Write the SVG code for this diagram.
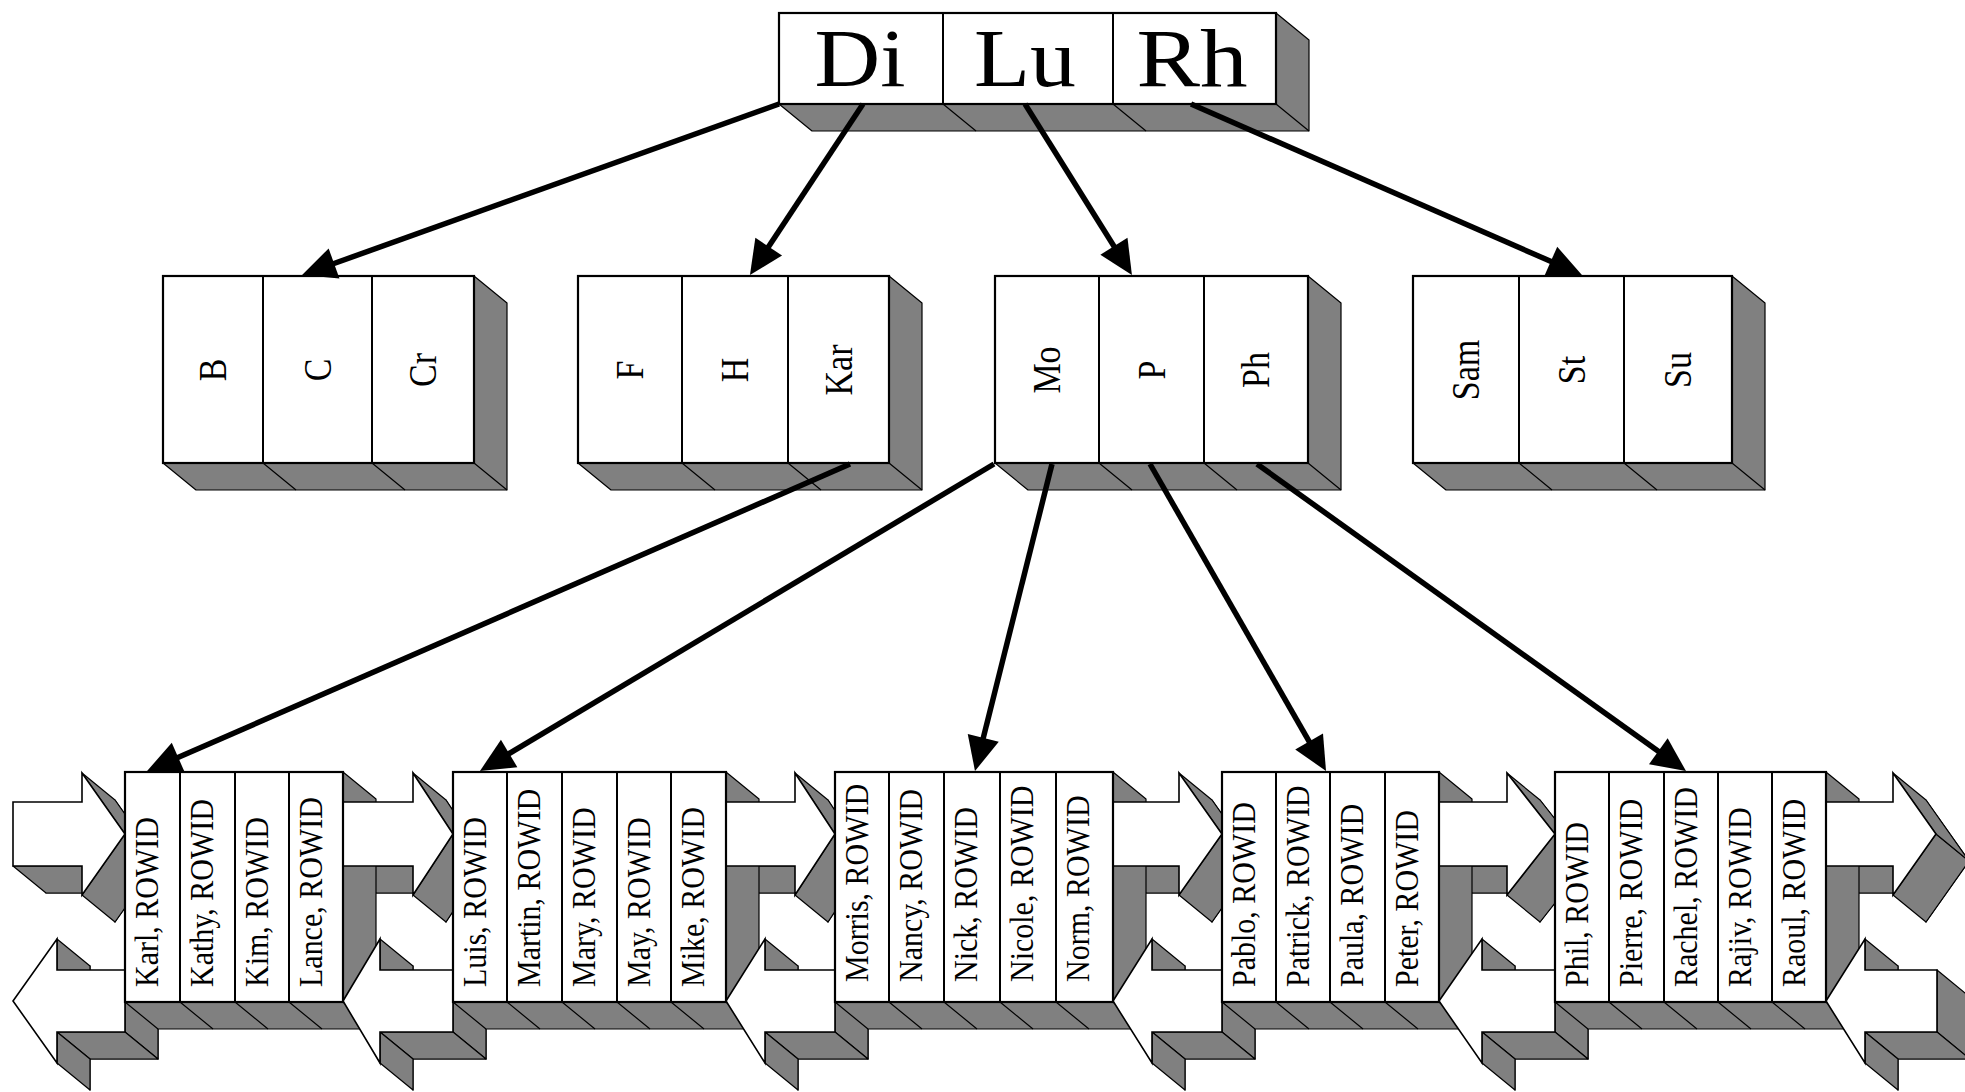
<svg xmlns="http://www.w3.org/2000/svg" width="1965" height="1092" viewBox="0 0 1965 1092">
  <defs>
    <style>
      .ext { fill: #808080; stroke: #000; stroke-width: 1.2; stroke-linejoin: round; }
      .crease { fill: none; stroke: #000; stroke-width: 1.2; }
      .face { fill: #fff; stroke: #000; stroke-width: 2.2; stroke-linejoin: miter; }
      .div { fill: none; stroke: #000; stroke-width: 2; }
      .link { fill: #fff; stroke: #000; stroke-width: 1.6; stroke-linejoin: miter; }
      .conn { fill: none; stroke: #000; stroke-width: 5.5; marker-end: url(#head); }
      .t0 { font-family: "Liberation Serif", "Times New Roman", serif; font-size: 82px; fill: #000; text-anchor: middle; }
      .t1 { font-family: "Liberation Serif", "Times New Roman", serif; font-size: 34px; fill: #000; text-anchor: middle; }
      .t2 { font-family: "Liberation Serif", "Times New Roman", serif; font-size: 30px; fill: #000; }
    </style>
    <marker id="head" markerUnits="userSpaceOnUse" markerWidth="40" markerHeight="36" refX="6" refY="16" orient="auto" overflow="visible">
      <path d="M0,0 L34,16 L0,32 Z" fill="#000"/>
    </marker>
  </defs>
  <rect width="1965" height="1092" fill="#fff"/>

  <!-- extruded (3-D) sides, drawn behind every front face -->
  <g id="depth">
    <!-- root block -->
    <polygon class="ext" points="1276,13 1309,40 1309,131 812,131 779,104 1276,104"/>
    <path class="crease" d="M1276,104 l33,27 M943,104 l33,27 M1113,104 l33,27"/>
    <!-- branch blocks -->
    <polygon class="ext" points="474,276 507,303 507,490 196,490 163,463 474,463"/>
    <path class="crease" d="M474,463 l33,27 M263,463 l33,27 M372,463 l33,27"/>
    <polygon class="ext" points="889,276 922,303 922,490 611,490 578,463 889,463"/>
    <path class="crease" d="M889,463 l33,27 M682,463 l33,27 M788,463 l33,27"/>
    <polygon class="ext" points="1308,276 1341,303 1341,490 1028,490 995,463 1308,463"/>
    <path class="crease" d="M1308,463 l33,27 M1099,463 l33,27 M1204,463 l33,27"/>
    <polygon class="ext" points="1732,276 1765,303 1765,490 1446,490 1413,463 1732,463"/>
    <path class="crease" d="M1732,463 l33,27 M1519,463 l33,27 M1624,463 l33,27"/>

    <!-- forward pointers (right arrows) -->
    <polygon class="ext" points="46,829 115,829 115,800 158,861 115,922 115,893 46,893"/>
    <polygon class="ext" points="82,866 13,866 46,893 115,893"/>
    <polygon class="ext" points="125,834 82,895 115,922 158,861"/>
    <polygon class="ext" points="82,773 125,834 158,861 115,800"/>

    <polygon class="ext" points="376,829 446,829 446,800 486,861 446,922 446,893 376,893"/>
    <polygon class="ext" points="413,866 343,866 376,893 446,893"/>
    <polygon class="ext" points="453,834 413,895 446,922 486,861"/>
    <polygon class="ext" points="413,773 453,834 486,861 446,800"/>

    <polygon class="ext" points="759,829 828,829 828,800 868,861 828,922 828,893 759,893"/>
    <polygon class="ext" points="795,866 726,866 759,893 828,893"/>
    <polygon class="ext" points="835,834 795,895 828,922 868,861"/>
    <polygon class="ext" points="795,773 835,834 868,861 828,800"/>

    <polygon class="ext" points="1146,829 1212,829 1212,800 1255,861 1212,922 1212,893 1146,893"/>
    <polygon class="ext" points="1179,866 1113,866 1146,893 1212,893"/>
    <polygon class="ext" points="1222,834 1179,895 1212,922 1255,861"/>
    <polygon class="ext" points="1179,773 1222,834 1255,861 1212,800"/>

    <polygon class="ext" points="1472,829 1540,829 1540,800 1588,861 1540,922 1540,893 1472,893"/>
    <polygon class="ext" points="1507,866 1439,866 1472,893 1540,893"/>
    <polygon class="ext" points="1555,834 1507,895 1540,922 1588,861"/>
    <polygon class="ext" points="1507,773 1555,834 1588,861 1540,800"/>

    <polygon class="ext" points="1859,829 1926,829 1926,800 1969,861 1926,922 1926,893 1859,893"/>
    <polygon class="ext" points="1893,866 1826,866 1859,893 1926,893"/>
    <polygon class="ext" points="1936,834 1893,895 1926,922 1969,861"/>
    <polygon class="ext" points="1893,773 1936,834 1969,861 1926,800"/>

    <!-- backward pointers (left arrows) -->
    <polygon class="ext" points="46,1028 90,966 90,997 158,997 158,1059 90,1059 90,1090"/>
    <polygon class="ext" points="57,939 57,970 90,997 90,966"/>
    <polygon class="ext" points="125,970 125,1032 158,1059 158,997"/>
    <polygon class="ext" points="125,1032 57,1032 90,1059 158,1059"/>
    <polygon class="ext" points="57,1032 57,1063 90,1090 90,1059"/>

    <polygon class="ext" points="376,1028 413,966 413,997 486,997 486,1059 413,1059 413,1090"/>
    <polygon class="ext" points="380,939 380,970 413,997 413,966"/>
    <polygon class="ext" points="453,970 453,1032 486,1059 486,997"/>
    <polygon class="ext" points="453,1032 380,1032 413,1059 486,1059"/>
    <polygon class="ext" points="380,1032 380,1063 413,1090 413,1059"/>

    <polygon class="ext" points="759,1028 798,966 798,997 868,997 868,1059 798,1059 798,1090"/>
    <polygon class="ext" points="765,939 765,970 798,997 798,966"/>
    <polygon class="ext" points="835,970 835,1032 868,1059 868,997"/>
    <polygon class="ext" points="835,1032 765,1032 798,1059 868,1059"/>
    <polygon class="ext" points="765,1032 765,1063 798,1090 798,1059"/>

    <polygon class="ext" points="1146,1028 1185,966 1185,997 1255,997 1255,1059 1185,1059 1185,1090"/>
    <polygon class="ext" points="1152,939 1152,970 1185,997 1185,966"/>
    <polygon class="ext" points="1222,970 1222,1032 1255,1059 1255,997"/>
    <polygon class="ext" points="1222,1032 1152,1032 1185,1059 1255,1059"/>
    <polygon class="ext" points="1152,1032 1152,1063 1185,1090 1185,1059"/>

    <polygon class="ext" points="1472,1028 1515,966 1515,997 1588,997 1588,1059 1515,1059 1515,1090"/>
    <polygon class="ext" points="1482,939 1482,970 1515,997 1515,966"/>
    <polygon class="ext" points="1555,970 1555,1032 1588,1059 1588,997"/>
    <polygon class="ext" points="1555,1032 1482,1032 1515,1059 1588,1059"/>
    <polygon class="ext" points="1482,1032 1482,1063 1515,1090 1515,1059"/>

    <polygon class="ext" points="1859,1028 1898,966 1898,997 1970,997 1970,1059 1898,1059 1898,1090"/>
    <polygon class="ext" points="1865,939 1865,970 1898,997 1898,966"/>
    <polygon class="ext" points="1937,970 1937,1032 1970,1059 1970,997"/>
    <polygon class="ext" points="1937,1032 1865,1032 1898,1059 1970,1059"/>
    <polygon class="ext" points="1865,1032 1865,1063 1898,1090 1898,1059"/>

    <!-- leaf blocks -->
    <polygon class="ext" points="343,772 376,799 376,1029 158,1029 125,1002 343,1002"/>
    <path class="crease" d="M343,1002 l33,27 M180,1002 l33,27 M235,1002 l33,27 M289,1002 l33,27"/>
    <polygon class="ext" points="726,772 759,799 759,1029 486,1029 453,1002 726,1002"/>
    <path class="crease" d="M726,1002 l33,27 M507,1002 l33,27 M562,1002 l33,27 M617,1002 l33,27 M671,1002 l33,27"/>
    <polygon class="ext" points="1113,772 1146,799 1146,1029 868,1029 835,1002 1113,1002"/>
    <path class="crease" d="M1113,1002 l33,27 M889,1002 l33,27 M944,1002 l33,27 M1000,1002 l33,27 M1056,1002 l33,27"/>
    <polygon class="ext" points="1439,772 1472,799 1472,1029 1255,1029 1222,1002 1439,1002"/>
    <path class="crease" d="M1439,1002 l33,27 M1276,1002 l33,27 M1330,1002 l33,27 M1385,1002 l33,27"/>
    <polygon class="ext" points="1826,772 1859,799 1859,1029 1588,1029 1555,1002 1826,1002"/>
    <path class="crease" d="M1826,1002 l33,27 M1609,1002 l33,27 M1664,1002 l33,27 M1718,1002 l33,27 M1772,1002 l33,27"/>
  </g>

  <!-- leaf chain pointers, front faces -->
  <g id="leaf-links">
    <polygon class="link" points="13,802 82,802 82,773 125,834 82,895 82,866 13,866"/>
    <polygon class="link" points="343,802 413,802 413,773 453,834 413,895 413,866 343,866"/>
    <polygon class="link" points="726,802 795,802 795,773 835,834 795,895 795,866 726,866"/>
    <polygon class="link" points="1113,802 1179,802 1179,773 1222,834 1179,895 1179,866 1113,866"/>
    <polygon class="link" points="1439,802 1507,802 1507,773 1555,834 1507,895 1507,866 1439,866"/>
    <polygon class="link" points="1826,802 1893,802 1893,773 1936,834 1893,895 1893,866 1826,866"/>

    <polygon class="link" points="13,1001 57,939 57,970 125,970 125,1032 57,1032 57,1063"/>
    <polygon class="link" points="343,1001 380,939 380,970 453,970 453,1032 380,1032 380,1063"/>
    <polygon class="link" points="726,1001 765,939 765,970 835,970 835,1032 765,1032 765,1063"/>
    <polygon class="link" points="1113,1001 1152,939 1152,970 1222,970 1222,1032 1152,1032 1152,1063"/>
    <polygon class="link" points="1439,1001 1482,939 1482,970 1555,970 1555,1032 1482,1032 1482,1063"/>
    <polygon class="link" points="1826,1001 1865,939 1865,970 1937,970 1937,1032 1865,1032 1865,1063"/>
  </g>

  <!-- root -->
  <g id="root">
    <rect class="face" x="779" y="13" width="497" height="91"/>
    <path class="div" d="M943,13 V104 M1113,13 V104"/>
    <text class="t0" x="860" y="86" textLength="91" lengthAdjust="spacingAndGlyphs">Di</text>
    <text class="t0" x="1025" y="86" textLength="102" lengthAdjust="spacingAndGlyphs">Lu</text>
    <text class="t0" x="1192" y="86" textLength="111" lengthAdjust="spacingAndGlyphs">Rh</text>
  </g>

  <!-- branch level: labels run bottom-to-top, glyphs widened across the cell -->
  <g id="branch-b">
    <rect class="face" x="163" y="276" width="311" height="187"/>
    <path class="div" d="M263,276 V463 M372,276 V463"/>
    <text class="t1" transform="translate(226 370) scale(1.18 1) rotate(-90)">B</text>
    <text class="t1" transform="translate(330.5 370) scale(1.18 1) rotate(-90)">C</text>
    <text class="t1" transform="translate(436 370) scale(1.18 1) rotate(-90)">Cr</text>
  </g>
  <g id="branch-f">
    <rect class="face" x="578" y="276" width="311" height="187"/>
    <path class="div" d="M682,276 V463 M788,276 V463"/>
    <text class="t1" transform="translate(643 370) scale(1.18 1) rotate(-90)">F</text>
    <text class="t1" transform="translate(748 370) scale(1.18 1) rotate(-90)">H</text>
    <text class="t1" transform="translate(851.5 370) scale(1.18 1) rotate(-90)">Kar</text>
  </g>
  <g id="branch-mo">
    <rect class="face" x="995" y="276" width="313" height="187"/>
    <path class="div" d="M1099,276 V463 M1204,276 V463"/>
    <text class="t1" transform="translate(1060 370) scale(1.18 1) rotate(-90)">Mo</text>
    <text class="t1" transform="translate(1164.5 370) scale(1.18 1) rotate(-90)">P</text>
    <text class="t1" transform="translate(1269 370) scale(1.18 1) rotate(-90)">Ph</text>
  </g>
  <g id="branch-sam">
    <rect class="face" x="1413" y="276" width="319" height="187"/>
    <path class="div" d="M1519,276 V463 M1624,276 V463"/>
    <text class="t1" transform="translate(1479 370) scale(1.18 1) rotate(-90)">Sam</text>
    <text class="t1" transform="translate(1584.5 370) scale(1.18 1) rotate(-90)">St</text>
    <text class="t1" transform="translate(1691 370) scale(1.18 1) rotate(-90)">Su</text>
  </g>

  <!-- leaf level -->
  <g id="leaf-1">
    <rect class="face" x="125" y="772" width="218" height="230"/>
    <path class="div" d="M180,772 V1002 M235,772 V1002 M289,772 V1002"/>
    <text class="t2" transform="translate(158 987) scale(1.15 1) rotate(-90)">Karl, ROWID</text>
    <text class="t2" transform="translate(213 987) scale(1.15 1) rotate(-90)">Kathy, ROWID</text>
    <text class="t2" transform="translate(268 987) scale(1.15 1) rotate(-90)">Kim, ROWID</text>
    <text class="t2" transform="translate(322 987) scale(1.15 1) rotate(-90)">Lance, ROWID</text>
  </g>
  <g id="leaf-2">
    <rect class="face" x="453" y="772" width="273" height="230"/>
    <path class="div" d="M507,772 V1002 M562,772 V1002 M617,772 V1002 M671,772 V1002"/>
    <text class="t2" transform="translate(486 987) scale(1.15 1) rotate(-90)">Luis, ROWID</text>
    <text class="t2" transform="translate(540 987) scale(1.15 1) rotate(-90)">Martin, ROWID</text>
    <text class="t2" transform="translate(595 987) scale(1.15 1) rotate(-90)">Mary, ROWID</text>
    <text class="t2" transform="translate(650 987) scale(1.15 1) rotate(-90)">May, ROWID</text>
    <text class="t2" transform="translate(704 987) scale(1.15 1) rotate(-90)">Mike, ROWID</text>
  </g>
  <g id="leaf-3">
    <rect class="face" x="835" y="772" width="278" height="230"/>
    <path class="div" d="M889,772 V1002 M944,772 V1002 M1000,772 V1002 M1056,772 V1002"/>
    <text class="t2" transform="translate(868 982) scale(1.15 1) rotate(-90)">Morris, ROWID</text>
    <text class="t2" transform="translate(922 982) scale(1.15 1) rotate(-90)">Nancy, ROWID</text>
    <text class="t2" transform="translate(977 982) scale(1.15 1) rotate(-90)">Nick, ROWID</text>
    <text class="t2" transform="translate(1033 982) scale(1.15 1) rotate(-90)">Nicole, ROWID</text>
    <text class="t2" transform="translate(1089 982) scale(1.15 1) rotate(-90)">Norm, ROWID</text>
  </g>
  <g id="leaf-4">
    <rect class="face" x="1222" y="772" width="217" height="230"/>
    <path class="div" d="M1276,772 V1002 M1330,772 V1002 M1385,772 V1002"/>
    <text class="t2" transform="translate(1255 987) scale(1.15 1) rotate(-90)">Pablo, ROWID</text>
    <text class="t2" transform="translate(1309 987) scale(1.15 1) rotate(-90)">Patrick, ROWID</text>
    <text class="t2" transform="translate(1363 987) scale(1.15 1) rotate(-90)">Paula, ROWID</text>
    <text class="t2" transform="translate(1418 987) scale(1.15 1) rotate(-90)">Peter, ROWID</text>
  </g>
  <g id="leaf-5">
    <rect class="face" x="1555" y="772" width="271" height="230"/>
    <path class="div" d="M1609,772 V1002 M1664,772 V1002 M1718,772 V1002 M1772,772 V1002"/>
    <text class="t2" transform="translate(1588 987) scale(1.15 1) rotate(-90)">Phil, ROWID</text>
    <text class="t2" transform="translate(1642 987) scale(1.15 1) rotate(-90)">Pierre, ROWID</text>
    <text class="t2" transform="translate(1697 987) scale(1.15 1) rotate(-90)">Rachel, ROWID</text>
    <text class="t2" transform="translate(1751 987) scale(1.15 1) rotate(-90)">Rajiv, ROWID</text>
    <text class="t2" transform="translate(1805 987) scale(1.15 1) rotate(-90)">Raoul, ROWID</text>
  </g>

  <!-- tree pointers -->
  <g id="connectors">
    <line class="conn" x1="779" y1="104" x2="328.4" y2="265.5"/>
    <line class="conn" x1="863" y1="104" x2="765.4" y2="251.6"/>
    <line class="conn" x1="1025" y1="104" x2="1117.1" y2="251.3"/>
    <line class="conn" x1="1191" y1="104" x2="1556.3" y2="263.8"/>
    <line class="conn" x1="850" y1="464" x2="172.7" y2="759.8"/>
    <line class="conn" x1="994" y1="464" x2="504.0" y2="756.6"/>
    <line class="conn" x1="1052" y1="464" x2="981.8" y2="743.8"/>
    <line class="conn" x1="1150" y1="464" x2="1312.1" y2="746.7"/>
    <line class="conn" x1="1257" y1="464" x2="1663.2" y2="754.7"/>
  </g>
</svg>
